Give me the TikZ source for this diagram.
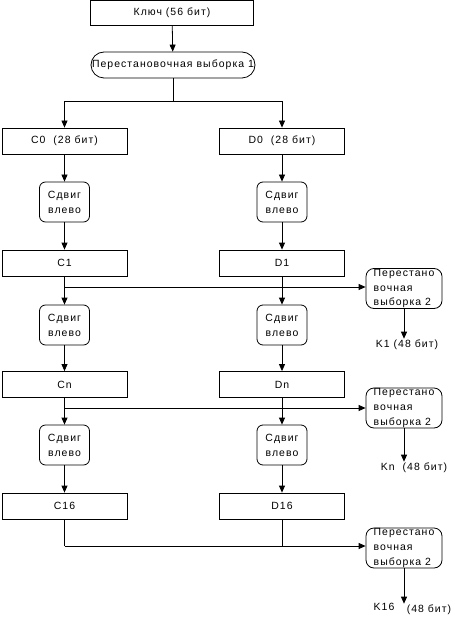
\documentclass[tikz,border=0pt]{standalone}
\usepackage{fontspec}
\setmainfont{Liberation Sans}[LetterSpace=10]
\usetikzlibrary{arrows.meta}

\begin{document}
\begin{tikzpicture}[x=1bp,y=-1bp,line width=0.8pt,
        every node/.style={font=\fontsize{10.5}{15}\selectfont,inner sep=1pt},
        block/.style={draw,minimum width=125bp,minimum height=26bp},
        shiftbox/.style={draw,rounded corners=6bp,minimum width=50bp,minimum height=40bp,align=center},
        pbox/.style={draw,rounded corners=8bp,minimum width=76bp,minimum height=40bp,align=left,inner ysep=-2bp},
        arr/.style={-{Triangle[length=7bp,width=6bp]}}]
        \useasboundingbox (0,0) rectangle (455,620);

        \node[draw,minimum width=163bp,minimum height=25bp] (key) at (172,13) {Ключ (56 бит)}; %key
        \node[draw,rounded corners=13bp,minimum width=164bp,minimum height=26bp] (pv1) at (173,65) {Перестановочная выборка 1}; %pv1
        \coordinate (split) at (173,101);

        \node[block] (c0) at (64.5,141) {C0\ \ (28 бит)}; %c0
        \node[block] (d0) at (282,141) {D0\ \ (28 бит)}; %d0
        \node[shiftbox] (sc1) at (64.5,202) {Сдвиг\\влево};
        \node[shiftbox] (sd1) at (282,202) {Сдвиг\\влево};
        \node[block] (c1) at (64.5,263) {C1}; %c1
        \node[block] (d1) at (282,263) {D1}; %d1
        \node[shiftbox] (sc2) at (64.5,325) {Сдвиг\\влево};
        \node[shiftbox] (sd2) at (282,325) {Сдвиг\\влево};
        \node[block] (cn) at (64.5,384.5) {Cn}; %cn
        \node[block] (dn) at (282,384.5) {Dn}; %dn
        \node[shiftbox] (sc3) at (64.5,445) {Сдвиг\\влево};
        \node[shiftbox] (sd3) at (282,445) {Сдвиг\\влево};
        \node[block] (c16) at (64.5,506) {C16}; %c16
        \node[block] (d16) at (282,506) {D16}; %d16

        \node[pbox] (p1) at (404,288.5) {Перестано\\вочная\\выборка 2}; %pc2
        \node[pbox] (p2) at (404,408) {Перестано\\вочная\\выборка 2};
        \node[pbox] (p3) at (404,548) {Перестано\\вочная\\выборка 2};
        \node (k1) at (407,345) {K1 (48 бит)}; %k1
        \node (kn) at (414,468) {Kn\ \ (48 бит)}; %kn
        \node (k16) at (384,607) {K16}; %k16
        \node (k16bits) at (429,610) {(48 бит)};

        \coordinate (j1) at (64.5,287);
        \coordinate (j2) at (64.5,408);
        \coordinate (j3) at (64.5,546);
        \coordinate (j3d) at (282,546);

        \draw[arr] (key) -- (pv1);
        \draw (pv1) -- (split);
        \draw[arr] (split) -| (c0);
        \draw[arr] (split) -| (d0);

        \draw[arr] (c0) -- (sc1);
        \draw[arr] (d0) -- (sd1);
        \draw[arr] (sc1) -- (c1);
        \draw[arr] (sd1) -- (d1);
        \draw[arr] (c1) -- (sc2);
        \draw[arr] (d1) -- (sd2);
        \draw[arr] (sc2) -- (cn);
        \draw[arr] (sd2) -- (dn);
        \draw[arr] (cn) -- (sc3);
        \draw[arr] (dn) -- (sd3);
        \draw[arr] (sc3) -- (c16);
        \draw[arr] (sd3) -- (d16);

        \draw[arr] (j1) -- (j1 -| p1.west);
        \draw[arr] (j2) -- (j2 -| p2.west);
        \draw (c16) -- (j3);
        \draw (d16) -- (j3d);
        \draw[arr] (j3) -- (j3 -| p3.west);

        \draw[arr] (p1) -- (p1.south |- k1.north);
        \draw[arr] (p2) -- (p2.south |- kn.north);
        \draw[arr] (p3) -- (p3.south |- k16bits.north);
    \end{tikzpicture}
\end{document}
